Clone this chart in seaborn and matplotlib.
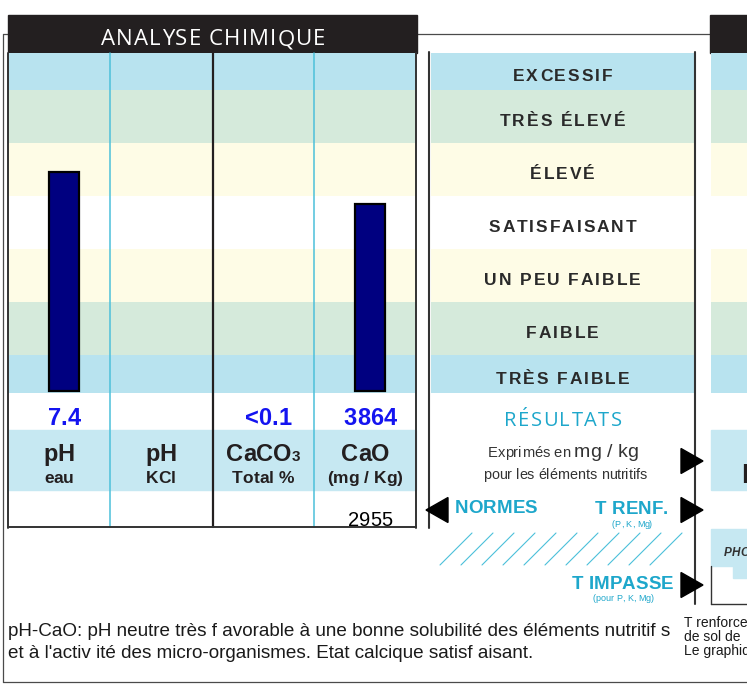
import numpy as np
import pandas as pd
import matplotlib
matplotlib.use("Agg")
import matplotlib.pyplot as plt
import seaborn as sns
from matplotlib import transforms as mtrans
from matplotlib import font_manager, ft2font
from matplotlib.patches import Rectangle, Polygon
from matplotlib.lines import Line2D

# --- Résultats de l'analyse chimique ---
colonnes = ["pH eau", "pH KCl", "CaCO3", "CaO"]
titres = ["pH", "pH", "CaCO", "CaO"]
indices = ["", "", "3", ""]
sous_titres = ["eau", "KCl", "Total %", "(mg / Kg)"]
resultats = ["7.4", "", "<0.1", "3864"]
barres_colonne = ["pH eau", "CaO"]
barres_niveau = [4.13, 3.53]
norme_colonne = "CaO"
norme_valeur = "2955"

# --- Échelle d'interprétation, du bas vers le haut ---
classes = ["TRÈS FAIBLE", "FAIBLE", "UN PEU FAIBLE", "SATISFAISANT",
           "ÉLEVÉ", "TRÈS ÉLEVÉ", "EXCESSIF"]
bornes = [-0.04, 0.68, 1.68, 2.68, 3.68, 4.68, 5.68, 6.38]

commentaire = ["pH-CaO: pH neutre très f avorable à une bonne solubilité des éléments nutritif s",
               "et à l'activ ité des micro-organismes. Etat calcique satisf aisant."]
note_droite = ["T renforcement", "de sol de", "Le graphique"]

# --- Styles ---
BLEU, VERT, JAUNE = "#b8e3ef", "#d5eadb", "#fefce6"
fonds_classes = [BLEU, VERT, JAUNE, "#ffffff", JAUNE, VERT, BLEU]
BLEU_ETIQ = "#c6e8f2"
CYAN_TRAIT = "#4cc0da"
CYAN_TXT = "#1ea7cb"
NOIR = "#231f20"
GRIS = "#2a2a2a"
BLEU_VAL = "#1414f0"
MARINE = "#000080"

W, H = 747, 685
sns.set_theme(style="white")
plt.rcParams["font.family"] = ["Liberation Sans", "DejaVu Sans"]
fig = plt.figure(figsize=(W / 100, H / 100), dpi=100)


def boite(x0, y0, x1, y1):
    return [x0 / W, 1 - y1 / H, (x1 - x0) / W, (y1 - y0) / H]


def police(fam="Liberation Sans", size=10, weight="normal", style="normal"):
    return font_manager.FontProperties(family=fam, size=size, weight=weight, style=style)


def texte(axe, x, y, morceaux, transform, ha="center", espace=0.0, dy=0.0, color="black"):
    """Texte posé lettre par lettre, avec approche (espace en points)."""
    items = []
    for s, fp in morceaux:
        try:
            f = ft2font.FT2Font(font_manager.findfont(fp))
            f.set_size(fp.get_size_in_points(), 72)
            for ch in s:
                g = f.load_char(ord(ch))
                items.append((ch, fp, g.linearHoriAdvance / 65536.0))
        except Exception:
            for ch in s:
                items.append((ch, fp, 0.55 * fp.get_size_in_points()))
    total = sum(a for _, _, a in items) + espace * (len(items) - 1)
    off = {"center": -total / 2, "left": 0.0, "right": -total}[ha]
    for ch, fp, a in items:
        if ch.strip():
            t = mtrans.offset_copy(transform, fig=axe.figure, x=off, y=dy, units="points")
            axe.text(x, y, ch, transform=t, ha="left", va="baseline",
                     fontproperties=fp, color=color)
        off += a + espace


# --- Axes ---
bg = fig.add_axes([0, 0, 1, 1], zorder=0)
ax = fig.add_axes(boite(8, 53, 416, 393), zorder=1)
ax_cls = fig.add_axes(boite(431, 53, 694, 393), zorder=1)
ax_suiv = fig.add_axes(boite(711, 53, 747, 393), zorder=1)
fg = fig.add_axes([0, 0, 1, 1], zorder=2)
for a in (bg, fg):
    a.set_xlim(0, W)
    a.set_ylim(H, 0)
    a.axis("off")

# Bandes de l'échelle
for a in (ax, ax_cls, ax_suiv):
    for lo, hi, c in zip(bornes[:-1], bornes[1:], fonds_classes):
        a.axhspan(lo, hi, color=c, lw=0, zorder=0)

# Barres
df = pd.DataFrame({"colonne": barres_colonne, "niveau": barres_niveau})
sns.barplot(data=df, x="colonne", y="niveau", order=colonnes, color=MARINE,
            saturation=1, width=0.29, edgecolor="black", linewidth=1.6,
            errorbar=None, ax=ax, zorder=3)
ax.set_xlim(-0.55, 3.45)
for a in (ax, ax_cls, ax_suiv):
    a.set_ylim(bornes[0], bornes[-1])
    a.axis("off")
ax_cls.set_xlim(0, 1)
ax_suiv.set_xlim(0, 1)

tx = mtrans.blended_transform_factory(ax.transData, fg.transData)
tp = fg.transData

# --- Cadre général ---
for xs, ys in [([3, W], [34, 34]), ([3, 3], [34, 682]), ([3, W], [682, 682])]:
    bg.add_line(Line2D(xs, ys, color="#4a4a4a", lw=0.9, zorder=0.5))

# En-têtes noirs
bg.add_patch(Rectangle((8, 15), 409, 38, color=NOIR, zorder=3))
bg.add_patch(Rectangle((710, 15), 40, 38, color=NOIR, zorder=3))
texte(fg, 213, 45, [("ANALYSE CHIMIQUE", police("Open Sans", 16))], tp,
      espace=0.8, color="white")

# Ligne des intitulés
bg.add_patch(Rectangle((8, 430), 408, 60, color=BLEU_ETIQ, zorder=1))
bg.add_patch(Rectangle((711, 430), 40, 60, color=BLEU_ETIQ, zorder=1))

# Séparateurs du tableau
for xd, c, lw in zip([0.45, 1.46, 2.45], [CYAN_TRAIT, NOIR, CYAN_TRAIT], [1.1, 1.6, 1.1]):
    fg.add_line(Line2D([xd, xd], [53, 527], transform=tx, color=c, lw=lw))
for xs, ys in [([8, 8], [53, 528]), ([416, 416], [53, 528]), ([8, 416], [527, 527])]:
    fg.add_line(Line2D(xs, ys, color="#333333", lw=1.4))

# Valeurs, intitulés, norme
for i, col in enumerate(colonnes):
    if resultats[i]:
        texte(fg, i, 425, [(resultats[i], police(size=17, weight="bold"))], tx, color=BLEU_VAL)
    morceaux = [(titres[i], police(size=17, weight="bold"))]
    if indices[i]:
        morceaux.append((indices[i], police(size=11, weight="bold")))
    texte(fg, i - 0.05, 461, morceaux, tx, color=NOIR)
    texte(fg, i - 0.05, 483, [(sous_titres[i], police(size=12.5, weight="bold"))], tx, color=NOIR)
texte(fg, colonnes.index(norme_colonne), 526, [(norme_valeur, police(size=14.5))], tx, color="black")

# --- Colonne des classes ---
for lo, hi, nom in zip(bornes[:-1], bornes[1:], classes):
    texte(ax_cls, 0.5, (lo + hi) / 2, [(nom, police(size=12.5, weight="bold"))],
          ax_cls.transData, espace=1.4, dy=-7.0, color=GRIS)

for xs, ys in [([429, 429], [52, 528]), ([695, 695], [52, 604])]:
    fg.add_line(Line2D(xs, ys, color="#333333", lw=1.5))

texte(fg, 563, 426, [("RÉSULTATS", police("Open Sans", 14.5))], tp, espace=1.1, color=CYAN_TXT)
texte(fg, 563, 457, [("Exprimés en ", police(size=10.6)), ("mg / kg", police(size=14))], tp,
      color="#333333")
texte(fg, 565, 479, [("pour les éléments nutritifs", police(size=10.4))], tp, color="#333333")

texte(fg, 455, 513, [("NORMES", police(size=13.5, weight="bold"))], tp, ha="left", color=CYAN_TXT)
texte(fg, 668, 514, [("T RENF.", police(size=13.5, weight="bold"))], tp, ha="right", color=CYAN_TXT)
texte(fg, 632, 527, [("(P, K, Mg)", police(size=6.5))], tp, color=CYAN_TXT)
texte(fg, 673, 589, [("T IMPASSE", police(size=13.5, weight="bold"))], tp, ha="right", color=CYAN_TXT)
texte(fg, 623, 601, [("(pour P, K, Mg)", police(size=6.5))], tp, color=CYAN_TXT)

# Hachures entre T RENF. et T IMPASSE
for k in range(11):
    x0 = 440 + 21 * k
    fg.add_line(Line2D([x0, x0 + 32], [565, 533], color=CYAN_TRAIT, lw=0.8))

# Flèches
for yc in (461, 510, 585):
    fg.add_patch(Polygon([(681, yc - 12.5), (681, yc + 12.5), (703, yc)], closed=True,
                         color="black", zorder=4))
fg.add_patch(Polygon([(448, 497.5), (448, 522.5), (426, 510)], closed=True,
                     color="black", zorder=4))

# --- Début du bloc suivant ---
texte(fg, 741, 483, [("P", police(size=20, weight="bold"))], tp, ha="left", color=NOIR)
bg.add_patch(Rectangle((711, 529), 40, 37, color=BLEU_ETIQ, zorder=1))
bg.add_patch(Rectangle((733, 566), 20, 12, color=BLEU_ETIQ, zorder=1))
texte(fg, 724, 556, [("PHO", police(size=8.5, weight="bold", style="italic"))], tp,
      ha="left", color="#333333")
for xs, ys in [([711, 711], [566, 604]), ([711, W], [604, 604])]:
    fg.add_line(Line2D(xs, ys, color="#333333", lw=1.0))

# --- Commentaires ---
for k, ligne in enumerate(commentaire):
    fg.text(8, 636 + 22 * k, ligne, fontsize=13.6, color="#1a1a1a", ha="left", va="baseline")
for k, ligne in enumerate(note_droite):
    fg.text(684, 627 + 14 * k, ligne, fontsize=10, color="#1a1a1a", ha="left", va="baseline")

for a in (bg, fg):
    a.set_xlim(0, W)
    a.set_ylim(H, 0)

fig.savefig("out.png", dpi=100)
